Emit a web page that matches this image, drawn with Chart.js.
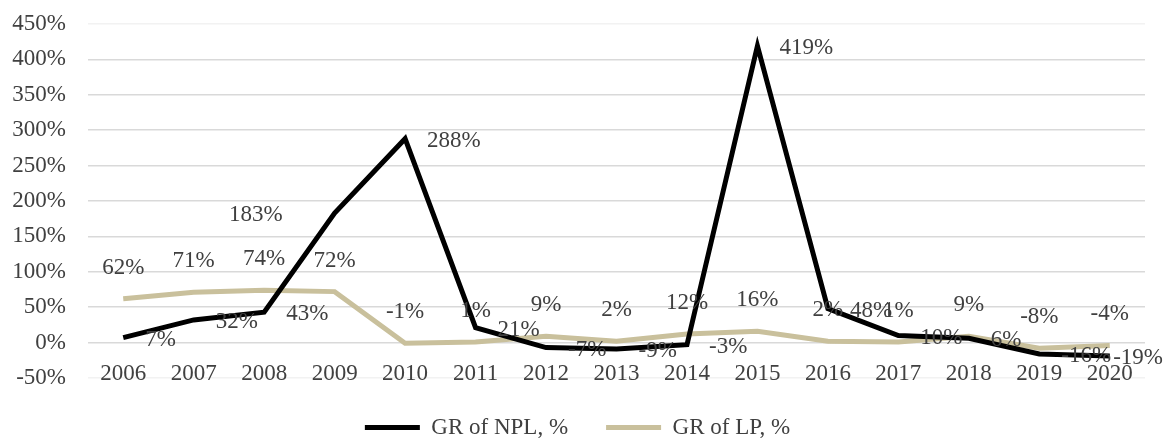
<!DOCTYPE html>
<html>
<head>
<meta charset="utf-8">
<script src="https://cdn.jsdelivr.net/npm/chart.js@4.4.1/dist/chart.umd.min.js"></script>
<style>
  html,body{margin:0;padding:0;background:#fff;}
  #wrap{width:1166px;height:439px;}
</style>
</head>
<body>
<div id="wrap"><canvas id="grChart"></canvas></div>
<script>
// years and growth rates, %
const years = ['2006','2007','2008','2009','2010','2011','2012','2013','2014','2015','2016','2017','2018','2019','2020'];
const grNPL = [7,32,43,183,288,21,-7,-9,-3,419,48,10,6,-16,-19];
const grLP  = [62,71,74,72,-1,1,9,2,12,16,2,1,9,-8,-4];
const yTicks = [-50,0,50,100,150,200,250,300,350,400,450];

const FONT = '"Liberation Serif", "Times New Roman", serif';
const TXT = '#404040';
const FS = 23;

// value labels: NPL sits to the right of its point (2009 to the left), LP above;
// a label running past the canvas edge is pulled back inside
const valueLabels = {
  id:'valueLabels',
  afterDatasetsDraw(chart){
    const ctx = chart.ctx;
    ctx.save();
    ctx.font = FS + 'px ' + FONT;
    ctx.fillStyle = TXT;
    ctx.textBaseline = 'middle';
    chart.data.datasets.forEach((ds, di)=>{
      const meta = chart.getDatasetMeta(di);
      meta.data.forEach((pt, i)=>{
        const txt = ds.data[i] + '%';
        if (di === 0){
          if (i === 3){ ctx.textAlign='right'; ctx.fillText(txt, pt.x - 52, pt.y + 2); }
          else {
            const w = ctx.measureText(txt).width;
            const x = Math.min(pt.x + 22, chart.width - 3 - w);
            ctx.textAlign='left'; ctx.fillText(txt, x, pt.y + 2);
          }
        } else {
          ctx.textAlign='center'; ctx.fillText(txt, pt.x, pt.y - 31);
        }
      });
    });
    ctx.restore();
  }
};

new Chart(document.getElementById('grChart'), {
  type:'line',
  data:{
    labels: years,
    datasets:[
      { label:'GR of NPL, %', data:grNPL, borderColor:'#000000', backgroundColor:'#000000',
        borderWidth:5, pointRadius:0, tension:0 },
      { label:'GR of LP, %', data:grLP, borderColor:'#c9c09c', backgroundColor:'#c9c09c',
        borderWidth:5, pointRadius:0, tension:0 }
    ]
  },
  options:{
    responsive:true, maintainAspectRatio:false, animation:false,
    layout:{ padding:{ left:10, right:21, top:0, bottom:-10 } },
    plugins:{
      tooltip:{enabled:false},
      legend:{
        position:'bottom',
        labels:{
          boxWidth:55, boxHeight:5, padding:38, color:TXT,
          font:{ family:FONT, size:FS },
          generateLabels(chart){
            return Chart.defaults.plugins.legend.labels.generateLabels(chart)
              .map(l => Object.assign(l, { lineWidth:0 }));
          }
        }
      }
    },
    scales:{
      x:{
        position:{ y:0 },
        offset:true,
        grid:{ display:false, drawTicks:false },
        border:{ display:false },
        ticks:{ color:TXT, padding:18, font:{ family:FONT, size:FS }, maxRotation:0, autoSkip:false }
      },
      y:{
        min:-50, max:450,
        afterBuildTicks(axis){ axis.ticks = yTicks.map(v=>({value:v})); },
        afterFit(axis){ axis.width = 78; axis.paddingTop = 24; axis.paddingBottom = 0; },
        grid:{
          drawTicks:false, lineWidth:1.5,
          color:c => (c.tick && (c.tick.value===450 || c.tick.value===-50)) ? '#f2f2f2' : '#d9d9d9'
        },
        border:{ display:false },
        ticks:{ color:TXT, padding:22, font:{ family:FONT, size:FS }, callback:v => v + '%' }
      }
    }
  },
  plugins:[valueLabels]
});
</script>
</body>
</html>
